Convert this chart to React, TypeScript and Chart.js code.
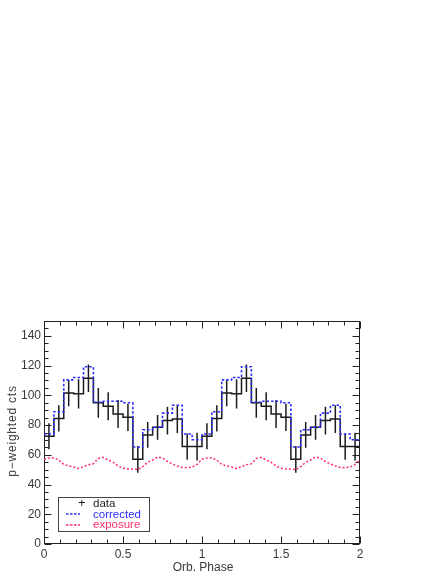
import React, { useEffect, useRef } from "react";
import { Chart, registerables } from "chart.js";

Chart.register(...registerables);

// ---- data (one orbital cycle, shown twice) ----
const binsPerPhase = 16;
const cycles = 2;
const dataCounts = [72.5, 84.5, 101.5, 101, 111.5, 95, 92.7, 87.4, 85.2, 57, 73.4, 78.5, 83, 84, 65.5, 65.5];
const correctedCounts = [74, 89, 110.4, 112, 119.2, 95.3, 96, 96, 95, 65.2, 76.8, 78.5, 88, 93.3, 74, 70.1];
const countErrors = [8.8, 8.9, 8.8, 9.9, 9.2, 10, 9.4, 9.4, 9.2, 9, 8.6, 8.3, 9.4, 9.4, 8.8, 9.4];
// exposure sampled 32 times per phase
const exposure = [
  57, 57.8, 58, 56.5, 53.5, 52.5, 51.8, 50.8, 52, 53.3, 54, 57.5, 58.3, 56.5, 55, 52.5,
  51, 50.5, 50.5, 50, 52, 55, 56.5, 58.5, 57.8, 55.5, 53.8, 52.5, 51.5, 51.3, 51.8, 53.5,
];
const xTicks = [0, 0.5, 1, 1.5, 2];
const yTicks = [0, 20, 40, 60, 80, 100, 120, 140];
const xRange = [0, 2];
const yRange = [0, 150];

const FONT = '"Liberation Sans", Arial, Helvetica, sans-serif';
const BLUE = "rgb(45,45,255)";
const RED = "rgb(255,45,105)";
const BLACK = "#1c1c1c";
const TEXT = "#3a3a3a";

function stepPoints(vals: number[]) {
  const pts: { x: number; y: number }[] = [];
  for (let c = 0; c < cycles; c++) {
    vals.forEach((v, i) => pts.push({ x: c + i / binsPerPhase, y: v }));
  }
  pts.push({ x: cycles, y: vals[vals.length - 1] });
  return pts;
}

function errorPoints() {
  const pts: { x: number; y: number | null }[] = [];
  for (let c = 0; c < cycles; c++) {
    dataCounts.forEach((v, i) => {
      const xc = c + (i + 0.5) / binsPerPhase;
      pts.push({ x: xc, y: v - countErrors[i] });
      pts.push({ x: xc, y: v + countErrors[i] });
      pts.push({ x: xc, y: null });
    });
  }
  return pts;
}

function exposurePoints() {
  const n = exposure.length;
  const pts: { x: number; y: number }[] = [];
  for (let c = 0; c < cycles; c++) {
    exposure.forEach((v, i) => pts.push({ x: c + i / n, y: v }));
  }
  pts.push({ x: cycles, y: exposure[0] });
  return pts;
}

const framePlugin = {
  id: "idlFrame",
  beforeDatasetsDraw(chart: any) {
    const { ctx, chartArea: a, scales } = chart;
    const sx = scales.x;
    const sy = scales.y;
    const L = Math.round(a.left) + 0.5;
    const R = Math.round(a.right) - 0.5;
    const T = Math.round(a.top) + 0.5;
    const B = Math.round(a.bottom) - 0.5;
    ctx.save();
    ctx.strokeStyle = "#222";
    ctx.lineWidth = 1;
    ctx.strokeRect(L, T, R - L, B - T);
    ctx.beginPath();
    for (let k = 0; k <= 20; k++) {
      const v = k / 10;
      const px = Math.round(sx.getPixelForValue(v)) + 0.5;
      const len = k % 5 === 0 ? 7 : 4;
      ctx.moveTo(px, B);
      ctx.lineTo(px, B - len);
      ctx.moveTo(px, T);
      ctx.lineTo(px, T + len);
    }
    for (let v = 0; v <= 150; v += 5) {
      const py = Math.round(sy.getPixelForValue(v)) + 0.5;
      const len = v % 20 === 0 ? 7 : 4;
      ctx.moveTo(L, py);
      ctx.lineTo(L + len, py);
      ctx.moveTo(R, py);
      ctx.lineTo(R - len, py);
    }
    ctx.stroke();
    ctx.restore();
  },
};

export default function App() {
  const ref = useRef<HTMLCanvasElement | null>(null);

  useEffect(() => {
    if (!ref.current) return;
    const chart = new Chart(ref.current, {
      type: "line",
      data: {
        datasets: [
          {
            label: "exposure",
            data: exposurePoints(),
            borderColor: RED,
            borderWidth: 1.5,
            borderDash: [2, 2],
            pointRadius: 0,
            tension: 0,
          },
          {
            label: "corrected",
            data: stepPoints(correctedCounts),
            borderColor: BLUE,
            borderWidth: 1.6,
            borderDash: [2.5, 2],
            pointRadius: 0,
            stepped: "before",
          },
          {
            label: "data",
            data: stepPoints(dataCounts),
            borderColor: BLACK,
            borderWidth: 1.5,
            pointRadius: 0,
            stepped: "before",
          },
          {
            label: "errors",
            data: errorPoints(),
            borderColor: BLACK,
            borderWidth: 1.5,
            pointRadius: 0,
            spanGaps: false,
          },
        ],
      } as any,
      options: {
        animation: false,
        responsive: false,
        layout: { padding: { top: 321, right: 86, left: 0, bottom: 0 } },
        plugins: { legend: { display: false }, tooltip: { enabled: false } },
        scales: {
          x: {
            type: "linear",
            min: xRange[0],
            max: xRange[1],
            afterFit: (s: any) => {
              s.height = 33;
            },
            afterBuildTicks: (s: any) => {
              s.ticks = xTicks.map((v) => ({ value: v }));
            },
            grid: { display: false, drawTicks: false },
            border: { display: false },
            ticks: {
              padding: 3,
              color: TEXT,
              maxRotation: 0,
              autoSkip: false,
              font: { family: FONT, size: 12 },
              callback: (v: any) => String(v),
            },
          },
          y: {
            type: "linear",
            min: yRange[0],
            max: yRange[1],
            afterFit: (s: any) => {
              s.width = 44;
            },
            afterBuildTicks: (s: any) => {
              s.ticks = yTicks.map((v) => ({ value: v }));
            },
            grid: { display: false, drawTicks: false },
            border: { display: false },
            ticks: {
              padding: 3,
              color: TEXT,
              autoSkip: false,
              font: { family: FONT, size: 12 },
              callback: (v: any) => String(v),
            },
          },
        },
      } as any,
      plugins: [framePlugin],
    });
    return () => chart.destroy();
  }, []);

  const txt: React.CSSProperties = {
    position: "absolute",
    fontFamily: FONT,
    fontSize: 11.5,
    lineHeight: "12px",
    whiteSpace: "nowrap",
  };

  return (
    <div style={{ position: "absolute", left: 0, top: 0, width: 446, height: 577, background: "#fff" }}>
      <canvas ref={ref} width={446} height={577} style={{ width: 446, height: 577, display: "block" }} />
      {/* legend */}
      <div
        style={{
          position: "absolute",
          left: 58,
          top: 497,
          width: 90,
          height: 33,
          border: "1px solid #444",
        }}
      />
      <div style={{ ...txt, left: 78, top: 497, fontSize: 13, color: BLACK }}>+</div>
      <div style={{ ...txt, left: 93, top: 497, color: BLACK }}>data</div>
      <svg style={{ position: "absolute", left: 66, top: 512, width: 16, height: 4 }}>
        <line x1={0} y1={2} x2={14} y2={2} stroke={BLUE} strokeWidth={1.5} strokeDasharray="2.5,1.5" />
      </svg>
      <div style={{ ...txt, left: 93, top: 507.5, color: BLUE }}>corrected</div>
      <svg style={{ position: "absolute", left: 66, top: 522.5, width: 16, height: 4 }}>
        <line x1={0} y1={2} x2={14} y2={2} stroke={RED} strokeWidth={1.5} strokeDasharray="2.5,1.5" />
      </svg>
      <div style={{ ...txt, left: 93, top: 518, color: RED }}>exposure</div>
      {/* axis titles */}
      <div
        style={{
          ...txt,
          fontSize: 12,
          lineHeight: "14px",
          color: TEXT,
          left: 103,
          width: 200,
          top: 560,
          textAlign: "center",
        }}
      >
        Orb. Phase
      </div>
      <div
        style={{
          ...txt,
          fontSize: 12,
          lineHeight: "14px",
          color: TEXT,
          left: 12 - 100,
          width: 200,
          top: 431 - 7,
          textAlign: "center",
          letterSpacing: "0.8px",
          transform: "rotate(-90deg)",
        }}
      >
        p−weighted cts
      </div>
    </div>
  );
}
